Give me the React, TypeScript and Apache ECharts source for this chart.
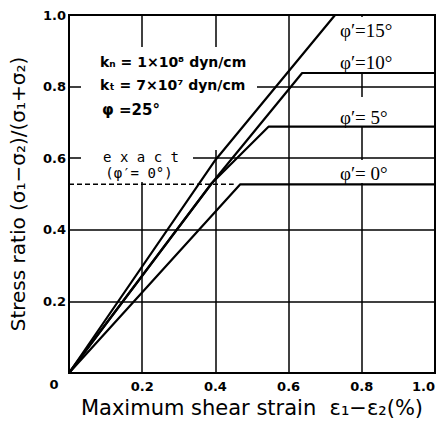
import React, { useEffect, useRef } from "react";
import * as echarts from "echarts";

const xTicks = [0, 0.2, 0.4, 0.6, 0.8, 1.0];

const phi15X = [0, 0.4, 0.727, 1.0];
const phi15Y = [0, 0.595, 1.0, 1.0];
const phi10X = [0, 0.39, 0.637, 1.0];
const phi10Y = [0, 0.53, 0.838, 0.838];
const phi5X = [0, 0.39, 0.545, 1.0];
const phi5Y = [0, 0.53, 0.688, 0.688];
const phi0X = [0, 0.468, 1.0];
const phi0Y = [0, 0.527, 0.527];
const exactX = [0, 0.45];
const exactY = [0.527, 0.527];

const curveLabels = ["φ′=15°", "φ′=10°", "φ′= 5°", "φ′= 0°"];
const paramLabels = ["kₙ = 1×10⁸ dyn/cm", "kₜ = 7×10⁷ dyn/cm", "φ =25°"];
const exactLabels = ["e x a c t", "(φ′= 0°)"];

const zip = (xs: number[], ys: number[]) => xs.map((x, i) => [x, ys[i]]);

export default function App() {
  const ref = useRef<HTMLDivElement>(null);
  useEffect(() => {
    if (!ref.current) return;
    const chart = echarts.init(ref.current, null, { renderer: "svg" });
    const lineSeries = (data: number[][], dashed = false) => ({
      type: "line",
      data,
      symbol: "none",
      z: 2,
      lineStyle: { color: "#000", width: dashed ? 1.5 : 2.2, type: dashed ? [5, 3] : "solid" },
    });
    const white = (x: number, y: number, w: number, h: number) => ({
      type: "rect",
      z: 1,
      shape: { x, y, width: w, height: h },
      style: { fill: "#fff" },
      silent: true,
    });
    const txt = (text: string, x: number, y: number, size: number, family: string, weight: any = "normal", align = "left") => ({
      type: "text",
      z: 3,
      x,
      y,
      style: {
        text,
        fontSize: size,
        fontFamily: family,
        fontWeight: weight,
        fill: "#000",
        textAlign: align,
        textVerticalAlign: "middle",
      },
    });
    const option: any = {
      animation: false,
      grid: {
        left: 69,
        right: 5,
        top: 15,
        bottom: 52,
        show: true,
        borderColor: "#000",
        borderWidth: 2,
        containLabel: false,
        outerBoundsMode: "none",
      },
      xAxis: {
        type: "value",
        min: 0,
        max: 1,
        interval: 0.2,
        name: "Maximum shear strain  ε₁−ε₂(%)",
        nameLocation: "middle",
        nameGap: 24,
        nameTextStyle: { fontSize: 21, fontFamily: "DejaVu Sans", color: "#000" },
        axisLine: { lineStyle: { color: "#000", width: 2 } },
        axisTick: { show: false },
        axisLabel: {
          margin: 7,
          fontSize: 13,
          fontWeight: "bold",
          fontFamily: "DejaVu Sans",
          color: "#000",
          alignMaxLabel: "right",
          formatter: (v: number) => (v === 0 ? "" : v.toFixed(1)),
        },
        splitLine: { show: true, lineStyle: { color: "#000", width: 1.5 } },
      },
      yAxis: {
        type: "value",
        min: 0,
        max: 1,
        interval: 0.2,
        name: "Stress ratio (σ₁−σ₂)/(σ₁+σ₂)",
        nameLocation: "middle",
        nameGap: 41,
        nameTextStyle: { fontSize: 20, fontFamily: "DejaVu Sans", color: "#000" },
        axisLine: { lineStyle: { color: "#000", width: 2 } },
        axisTick: { show: false },
        axisLabel: {
          margin: 3,
          fontSize: 13,
          fontWeight: "bold",
          fontFamily: "DejaVu Sans",
          color: "#000",
          formatter: (v: number) => (v === 0 ? "" : v.toFixed(1)),
        },
        splitLine: { show: true, lineStyle: { color: "#000", width: 1.5 } },
      },
      series: [
        lineSeries(zip(phi15X, phi15Y)),
        lineSeries(zip(phi10X, phi10Y)),
        lineSeries(zip(phi5X, phi5Y)),
        lineSeries(zip(phi0X, phi0Y)),
        lineSeries(zip(exactX, exactY), true),
      ],
      graphic: [
        white(81, 47, 176, 103),
        white(81, 145, 112, 37),
        white(330, 17, 95, 55),
        white(330, 97, 95, 29),
        white(330, 160, 95, 23),
        txt(String(xTicks[0]), 54, 384, 13, "DejaVu Sans", "bold", "center"),
        txt(paramLabels[0], 100, 62, 14, "DejaVu Sans", "bold"),
        txt(paramLabels[1], 100, 85, 14, "DejaVu Sans", "bold"),
        txt(paramLabels[2], 102, 110, 15, "DejaVu Sans", "bold"),
        txt(exactLabels[0], 141, 157, 14, "DejaVu Sans Mono", "normal", "center"),
        txt(exactLabels[1], 139, 173, 14, "DejaVu Sans Mono", "normal", "center"),
        txt(curveLabels[0], 340, 30, 19, "Liberation Serif"),
        txt(curveLabels[1], 340, 62, 19, "Liberation Serif"),
        txt(curveLabels[2], 340, 117, 19, "Liberation Serif"),
        txt(curveLabels[3], 340, 173, 19, "Liberation Serif"),
      ],
    };
    chart.setOption(option);
    return () => chart.dispose();
  }, []);
  return (
    <div
      ref={ref}
      style={{ position: "fixed", left: 0, top: 0, width: 440, height: 425, background: "#fff" }}
    />
  );
}
